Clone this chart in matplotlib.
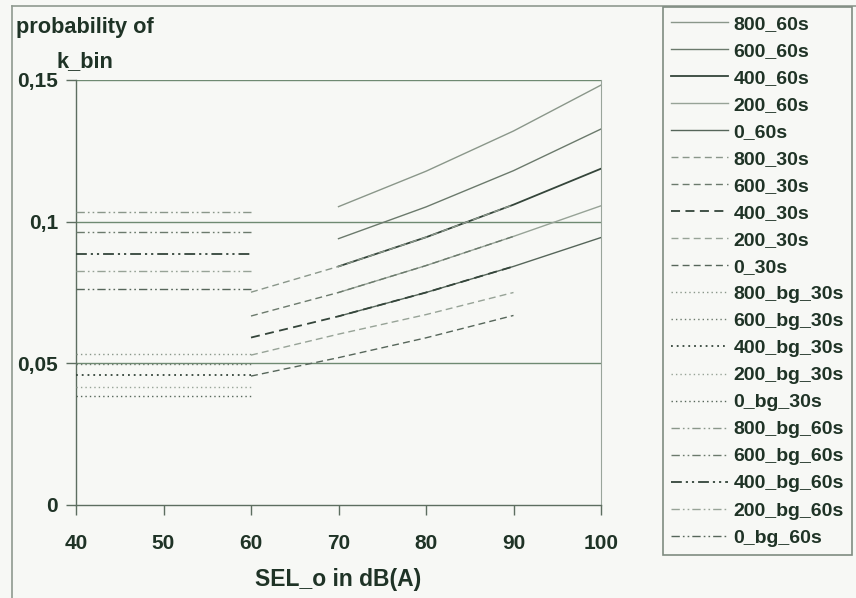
import matplotlib
matplotlib.use("Agg")
import matplotlib.pyplot as plt
from matplotlib.lines import Line2D

plt.rcParams['font.family'] = ['Liberation Sans', 'DejaVu Sans']
plt.rcParams['font.weight'] = 'bold'

BG = '#f7f8f5'
INK = '#1f3326'

# SEL_o grid of each scenario group
x_60s = [70, 80, 90, 100]
x_30s = [60, 70, 80, 90]
x_bg = [40, 50, 60]

# probability of k_bin
p_800_60s = [0.1053, 0.1178, 0.1320, 0.1482]
p_600_60s = [0.0940, 0.1052, 0.1180, 0.1327]
p_400_60s = [0.0842, 0.0945, 0.1060, 0.1187]
p_200_60s = [0.0750, 0.0845, 0.0948, 0.1056]
p_0_60s = [0.0666, 0.0750, 0.0842, 0.0944]

p_800_30s = [0.0751, 0.0842, 0.0945, 0.1060]
p_600_30s = [0.0667, 0.0750, 0.0845, 0.0948]
p_400_30s = [0.0591, 0.0666, 0.0750, 0.0842]
p_200_30s = [0.0529, 0.0603, 0.0672, 0.0750]
p_0_30s = [0.0455, 0.0520, 0.0590, 0.0669]

p_800_bg_30s = [0.0532] * 3
p_600_bg_30s = [0.0499] * 3
p_400_bg_30s = [0.0458] * 3
p_200_bg_30s = [0.0418] * 3
p_0_bg_30s = [0.0385] * 3

p_800_bg_60s = [0.1034] * 3
p_600_bg_60s = [0.0962] * 3
p_400_bg_60s = [0.0887] * 3
p_200_bg_60s = [0.0825] * 3
p_0_bg_60s = [0.0763] * 3

# shade per distance 800, 600, 400, 200, 0
shades = ['#8a978a', '#6b7a6c', '#34453a', '#97a397', '#56665a']

dash = (0, (5, 3))
dot = (0, (1, 2.2))
dashdotdot = (0, (6, 2.2, 1.2, 2.2, 1.2, 2.2))

series = [
    ('800_60s', x_60s, p_800_60s, '-', 0),
    ('600_60s', x_60s, p_600_60s, '-', 1),
    ('400_60s', x_60s, p_400_60s, '-', 2),
    ('200_60s', x_60s, p_200_60s, '-', 3),
    ('0_60s', x_60s, p_0_60s, '-', 4),
    ('800_30s', x_30s, p_800_30s, dash, 0),
    ('600_30s', x_30s, p_600_30s, dash, 1),
    ('400_30s', x_30s, p_400_30s, dash, 2),
    ('200_30s', x_30s, p_200_30s, dash, 3),
    ('0_30s', x_30s, p_0_30s, dash, 4),
    ('800_bg_30s', x_bg, p_800_bg_30s, dot, 0),
    ('600_bg_30s', x_bg, p_600_bg_30s, dot, 1),
    ('400_bg_30s', x_bg, p_400_bg_30s, dot, 2),
    ('200_bg_30s', x_bg, p_200_bg_30s, dot, 3),
    ('0_bg_30s', x_bg, p_0_bg_30s, dot, 4),
    ('800_bg_60s', x_bg, p_800_bg_60s, dashdotdot, 0),
    ('600_bg_60s', x_bg, p_600_bg_60s, dashdotdot, 1),
    ('400_bg_60s', x_bg, p_400_bg_60s, dashdotdot, 2),
    ('200_bg_60s', x_bg, p_200_bg_60s, dashdotdot, 3),
    ('0_bg_60s', x_bg, p_0_bg_60s, dashdotdot, 4),
]

W, H = 856, 598
fig = plt.figure(figsize=(W / 100, H / 100), dpi=100, facecolor=BG)
ax = fig.add_axes([76 / W, 1 - 505 / H, (601 - 76) / W, (505 - 80) / H])
ax.set_facecolor(BG)

for yv in [0.05, 0.1, 0.15]:
    ax.axhline(yv, color='#6f8a72', lw=1.0, zorder=1)

for name, xs, ys, ls, k in series:
    lw = 1.3 if k == 2 else 1.0
    ax.plot(xs, ys, linestyle=ls, color=shades[k], lw=lw, label=name, zorder=3)

ax.set_xlim(40, 100)
ax.set_ylim(0, 0.15)
ax.set_xticks([40, 50, 60, 70, 80, 90, 100])
ax.set_yticks([0, 0.05, 0.1, 0.15])
ax.set_yticklabels(['0', '0,05', '0,1', '0,15'])
ax.tick_params(axis='both', direction='out', length=7, width=1,
               color='#5d6e60', labelsize=15, labelcolor=INK, pad=6)
ax.tick_params(axis='x', pad=14)
for side in ['left', 'bottom']:
    ax.spines[side].set_color('#5d6e60')
    ax.spines[side].set_linewidth(1.0)
ax.spines['top'].set_visible(False)
ax.spines['right'].set_color('#9aa59b')
ax.spines['right'].set_linestyle((0, (1, 1)))

ax.set_xlabel('SEL_o in dB(A)', fontsize=16.5, fontweight='bold', color=INK,
              labelpad=11)
fig.text(85 / W, 1 - 28 / H, 'probability of', fontsize=15.7, color=INK,
         ha='center', va='center')
fig.text(85 / W, 1 - 62 / H, 'k_bin', fontsize=15.7, color=INK,
         ha='center', va='center')

# outer chart frame (left and top edges)
fig.add_artist(Line2D([12 / W, 12 / W], [0, 1 - 6 / H], color='#8f9a90', lw=1.2))
fig.add_artist(Line2D([12 / W, 1], [1 - 6 / H, 1 - 6 / H], color='#8f9a90', lw=1.2))

leg = fig.legend(loc='upper left', bbox_to_anchor=(663 / W, 1 - 7 / H),
                 borderaxespad=0, fontsize=14, handlelength=2.9,
                 handletextpad=0.3, labelspacing=0.485, borderpad=0.42,
                 fancybox=False, framealpha=1, facecolor=BG,
                 edgecolor='#7f8c81')
leg.get_frame().set_linewidth(1.2)
for t in leg.get_texts():
    t.set_color(INK)

fig.savefig('out.png', dpi=100, facecolor=BG)
